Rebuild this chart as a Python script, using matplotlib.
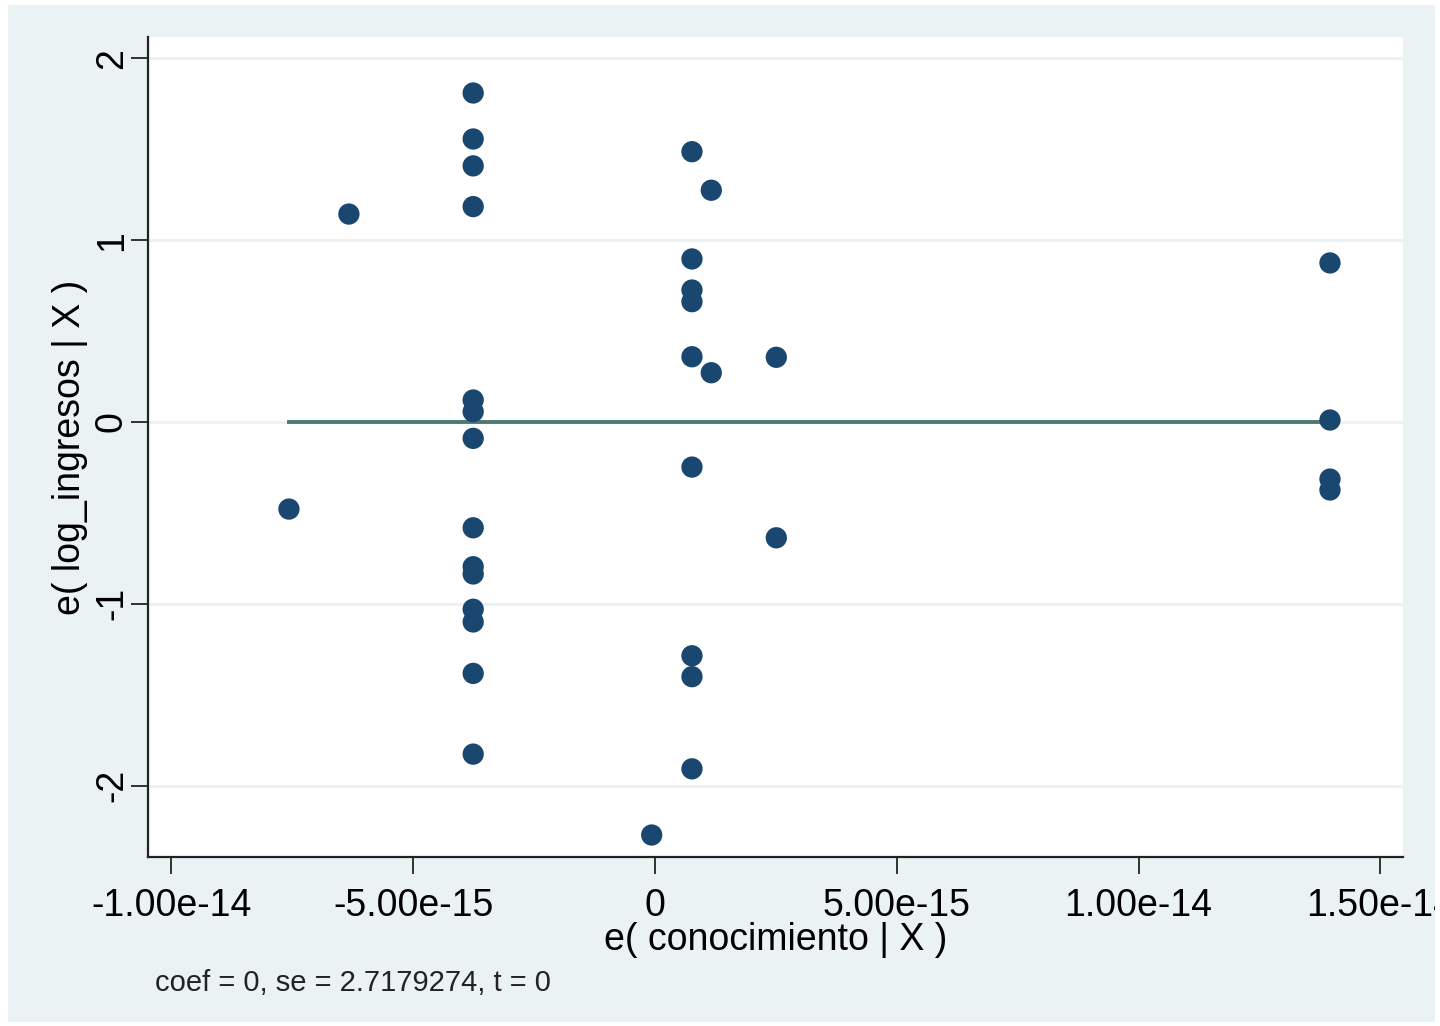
import numpy as np
import matplotlib.pyplot as plt
from matplotlib.patches import Rectangle

# residuals of conocimiento | X (x) and log_ingresos | X (y)
x_resid = np.array([
    -3.76e-15, -3.76e-15, -3.76e-15, -3.76e-15, -3.76e-15, -3.76e-15, -3.76e-15,
    -3.76e-15, -3.76e-15, -3.76e-15, -3.76e-15, -3.76e-15, -3.76e-15, -3.76e-15,
    7.65e-16, 7.65e-16, 7.65e-16, 7.65e-16, 7.65e-16, 7.65e-16, 7.65e-16,
    7.65e-16, 7.65e-16,
    1.164e-15, 1.164e-15,
    2.509e-15, 2.509e-15,
    -6.8e-17,
    -6.33e-15,
    -7.57e-15,
    1.396e-14, 1.396e-14, 1.396e-14, 1.396e-14,
])
y_resid = np.array([
    1.810, 1.557, 1.409, 1.185, 0.121, 0.057, -0.090,
    -0.582, -0.796, -0.836, -1.030, -1.100, -1.383, -1.827,
    1.487, 0.897, 0.726, 0.662, 0.359, -0.248, -1.286,
    -1.401, -1.908,
    1.275, 0.271,
    0.356, -0.637,
    -2.272,
    1.144,
    -0.479,
    0.875, 0.011, -0.314, -0.374,
])

coef = 0.0
se = 2.7179274
t_stat = 0.0

x_ticks = [-1e-14, -5e-15, 0, 5e-15, 1e-14, 1.5e-14]
x_tick_labels = ["-1.00e-14", "-5.00e-15", "0", "5.00e-15", "1.00e-14", "1.50e-14"]
y_ticks = [-2, -1, 0, 1, 2]

bg = "#eaf2f3"
navy = "#1a476f"
fit_color = "#4d7b73"

plt.rcParams['font.family'] = ['Liberation Sans', 'DejaVu Sans']

fig = plt.figure(figsize=(14.4, 10.26), dpi=100)
fig.patch.set_facecolor(bg)

W, H = 1440, 1026
ax = fig.add_axes([148 / W, 1 - 857 / H, (1403 - 148) / W, (857 - 37) / H])
ax.set_facecolor("white")

ax.scatter(x_resid, y_resid, s=235, color=navy, edgecolors="none", zorder=3)

# fitted line: coef * x over the range of x
xs = np.array([x_resid.min(), x_resid.max()])
ax.plot(xs, coef * xs, color=fit_color, lw=2.8, zorder=2)

ax.set_xlim(-1.0485e-14, 1.547e-14)
ax.set_ylim(-2.393, 2.118)
ax.set_xticks(x_ticks)
ax.set_xticklabels(x_tick_labels)
ax.set_yticks(y_ticks)
ax.set_yticklabels([str(v) for v in y_ticks], rotation=90, va="center")

for v in y_ticks:
    ax.axhline(v, color=bg, lw=2, zorder=1)

for side in ["top", "right"]:
    ax.spines[side].set_visible(False)
for side in ["left", "bottom"]:
    ax.spines[side].set_color("#222222")
    ax.spines[side].set_linewidth(1.6)

ax.tick_params(axis="both", direction="out", length=12, width=1.3,
               color="#222222", labelsize=27)
ax.tick_params(axis="x", pad=10)
ax.tick_params(axis="y", pad=1)

ax.set_xlabel("e( conocimiento | X )", fontsize=27, labelpad=-1)
ax.set_ylabel("e( log_ingresos | X )", fontsize=27, labelpad=4)

fig.text(155 / W, 1 - 983 / H,
         f"coef = {coef:g}, se = {se}, t = {t_stat:g}",
         fontsize=21, ha="left", va="center", color="#222222")

# thin white frame around the graph region
for rect in [(0, 0, 8 / W, 1), (1435 / W, 0, 5 / W, 1),
             (0, 1 - 5 / H, 1, 5 / H), (0, 0, 1, 4 / H)]:
    fig.add_artist(Rectangle(rect[:2], rect[2], rect[3], transform=fig.transFigure,
                             facecolor="white", edgecolor="none", zorder=10))

fig.savefig("out.png", dpi=100, facecolor=fig.get_facecolor())
